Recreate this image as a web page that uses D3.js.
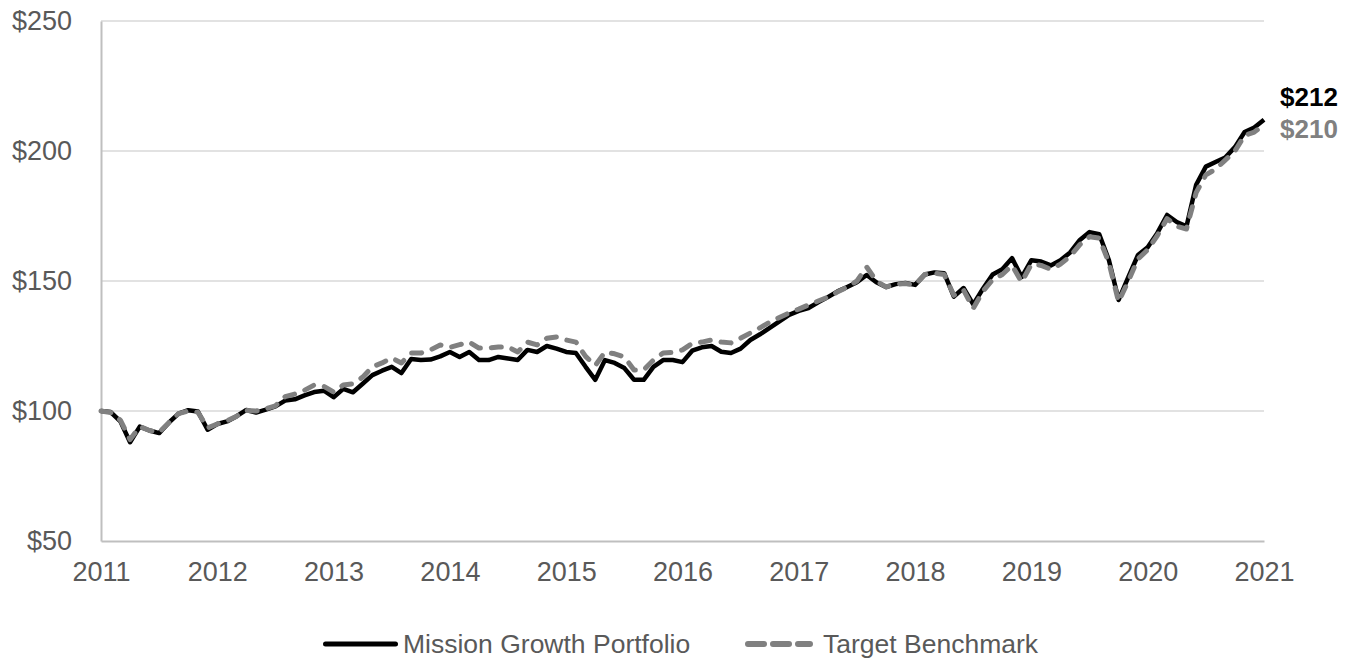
<!DOCTYPE html>
<html>
<head>
<meta charset="utf-8">
<script src="https://cdn.jsdelivr.net/npm/d3@7"></script>
<style>
  body { margin: 0; background: #fff; }
  svg { display: block; font-family: "Liberation Sans", Arial, sans-serif; }
</style>
</head>
<body>
<div id="chart"></div>
<script>
// monthly growth of $100, Jan 2011 .. Jan 2021
const portfolio = [
  100, 99.6, 96, 88, 94, 92.5, 91.5, 95.5, 99, 100.3, 99.8, 92.8,
  95, 96, 98, 100.4, 99.4, 100.5, 101.8, 104, 104.5, 106, 107.3, 107.8,
  105.3, 108.5, 107.2, 110.5, 113.8, 115.5, 117, 114.6, 120, 119.6, 119.8, 121,
  122.7, 120.8, 122.7, 119.6, 119.6, 120.8, 120.2, 119.6, 123.5, 122.7, 125, 124,
  122.7, 122.3, 117, 112, 119.6, 118.5, 116.5, 112, 112, 117, 119.6, 119.6,
  118.8, 123.2, 124.5, 125, 122.8, 122.3, 124, 127.3, 129.5, 132, 134.5, 137,
  138.5, 139.6, 141.8, 143.8, 146, 147.7, 149.5, 152.3, 149.5, 147.7, 148.8, 149.2,
  148.5, 152.5, 153.3, 153, 144, 147.3, 141, 147, 152.5, 154.5, 158.8, 151.5,
  158, 157.5, 156, 158, 161, 165.8, 168.8, 168, 158, 142.7, 151.5, 160,
  163, 168.5, 175.4, 172.7, 171, 187, 194, 195.8, 197.5, 201.5, 207.3, 209,
  212
];
const benchmark = [
  100, 99.4, 96.5, 89, 94, 92.5, 91.8, 95.5, 99, 100, 99.5, 93.5,
  95, 96.2, 98, 100.2, 100, 100.8, 102, 105.5, 106.5, 108, 110, 109.5,
  107.3, 110, 110.5, 113, 117, 118.5, 120.4, 118.5, 122.3, 122.3, 123.5, 125.4,
  124.5, 125.5, 126.5, 124.2, 124.2, 124.6, 124.6, 122.7, 126.5, 125.4, 128, 128.5,
  127.3, 126.5, 121, 117.5, 122.7, 122, 120.8, 115.8, 115.8, 119.6, 122.3, 122.5,
  123.5, 126, 126.5, 127.3, 126.5, 126.2, 128, 130, 132, 134.2, 136, 137.7,
  139.2, 140.8, 142.3, 143.8, 145.8, 147.7, 150, 155.4, 150, 147.7, 148.8, 149,
  148.5, 152.5, 153, 152.5, 144.5, 146.5, 139.5, 146, 150.5, 152.5, 156, 149.6,
  156.5, 156, 154.5, 156.5, 159.5, 164, 167, 166.5, 157, 142, 150, 158.5,
  162, 167.5, 174, 171, 170, 184, 190.8, 193, 196.5, 200, 206, 207.3,
  210
];
const yTicks = [50, 100, 150, 200, 250];
const xTicks = [2011, 2012, 2013, 2014, 2015, 2016, 2017, 2018, 2019, 2020, 2021];
const seriesNames = ["Mission Growth Portfolio", "Target Benchmark"];
const endLabels = ["$212", "$210"];

const width = 1353, height = 658;
const margin = {top: 21, right: 89, bottom: 117, left: 101};
const textColor = "#595959";

const svg = d3.select("#chart").append("svg")
  .attr("width", width)
  .attr("height", height);

const x = d3.scaleLinear()
  .domain([2011, 2021])
  .range([margin.left, width - margin.right]);

const y = d3.scaleLinear()
  .domain([50, 250])
  .range([height - margin.bottom, margin.top]);

const monthX = i => x(2011 + i / 12);

// gridlines
svg.append("g")
  .selectAll("line")
  .data(yTicks.filter(d => d > 50))
  .join("line")
  .attr("x1", x(2011)).attr("x2", x(2021))
  .attr("y1", d => y(d)).attr("y2", d => y(d))
  .attr("stroke", "#d9d9d9")
  .attr("stroke-width", 1.5);

// axes
const yAxis = svg.append("g")
  .attr("transform", `translate(${margin.left},0)`)
  .call(d3.axisLeft(y).tickValues(yTicks).tickSize(0).tickPadding(29).tickFormat(d => "$" + d));

const xAxis = svg.append("g")
  .attr("transform", `translate(0,${height - margin.bottom})`)
  .call(d3.axisBottom(x).tickValues(xTicks).tickSize(0).tickPadding(21).tickFormat(d3.format("d")));

[yAxis, xAxis].forEach(g => {
  g.select(".domain").attr("stroke", "#bfbfbf").attr("stroke-width", 2);
  g.selectAll("text")
    .attr("fill", textColor)
    .attr("font-size", 27)
    .attr("font-family", "Liberation Sans, Arial, sans-serif");
});

const line = d3.line()
  .x((d, i) => monthX(i))
  .y(d => y(d));

svg.append("path")
  .datum(portfolio)
  .attr("fill", "none")
  .attr("stroke", "#000")
  .attr("stroke-width", 4.5)
  .attr("stroke-linejoin", "round")
  .attr("d", line);

svg.append("path")
  .datum(benchmark)
  .attr("fill", "none")
  .attr("stroke", "#808080")
  .attr("stroke-width", 5)
  .attr("stroke-linecap", "round")
  .attr("stroke-linejoin", "round")
  .attr("stroke-dasharray", "10,11")
  .attr("d", line);

// end labels
const lastX = monthX(portfolio.length - 1);
svg.append("text")
  .attr("x", lastX + 16)
  .attr("y", y(portfolio[portfolio.length - 1]) - 14)
  .attr("font-size", 26).attr("font-weight", "bold")
  .attr("fill", "#000")
  .text(endLabels[0]);
svg.append("text")
  .attr("x", lastX + 16)
  .attr("y", y(benchmark[benchmark.length - 1]) + 13)
  .attr("font-size", 26).attr("font-weight", "bold")
  .attr("fill", "#808080")
  .text(endLabels[1]);

// legend
const legend = svg.append("g").attr("transform", `translate(0,${height - 14})`);
const legendItems = [
  {name: seriesNames[0], x: 325.5, len: 70, gap: 7.5, color: "#000", dash: null, w: 5},
  {name: seriesNames[1], x: 748, len: 62, gap: 13, color: "#808080", dash: "16,9", w: 6}
];
const li = legend.selectAll("g").data(legendItems).join("g")
  .attr("transform", d => `translate(${d.x},0)`);
li.append("line")
  .attr("x1", 0).attr("x2", d => d.len)
  .attr("y1", 0).attr("y2", 0)
  .attr("stroke", d => d.color)
  .attr("stroke-width", d => d.w)
  .attr("stroke-linecap", "round")
  .attr("stroke-dasharray", d => d.dash);
li.append("text")
  .attr("x", d => d.len + d.gap)
  .attr("y", 9)
  .attr("font-size", 26.5)
  .attr("fill", textColor)
  .text(d => d.name);
</script>
</body>
</html>
